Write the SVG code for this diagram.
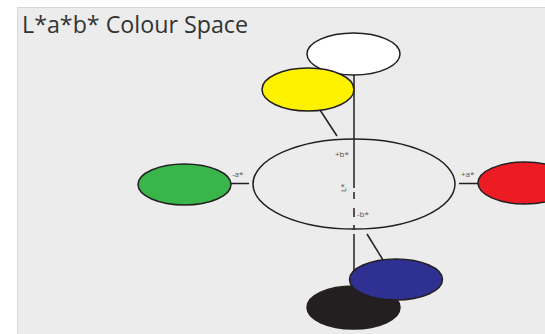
<svg xmlns="http://www.w3.org/2000/svg" width="545" height="334" viewBox="0 0 545 334">
<style>
.bg{fill:#ebeceb;stroke:#d6d7d6;stroke-width:1}
.e{stroke:#231f20;stroke-width:1.5}
.ln{stroke:#231f20;stroke-width:1.5;fill:none}
.t{font-family:"Open Sans","Liberation Sans",Arial,sans-serif;fill:#333}
.s{font-family:"Open Sans","Liberation Sans",Arial,sans-serif;font-size:8px;fill:#555}
</style>
<rect x="0" y="0" width="545" height="334" fill="#ffffff"/>
<rect class="bg" x="17.5" y="7.5" width="540" height="340"/>
<text class="t" x="22" y="33" font-size="24" textLength="226" lengthAdjust="spacingAndGlyphs">L*a*b* Colour Space</text>
<g id="connectors">
<line class="ln" x1="354" y1="75" x2="354" y2="188"/>
<path class="ln" d="M354 192V199M354 208V217M354 225V230M354 234V271"/>
<line class="ln" x1="320" y1="110" x2="337" y2="136"/>
<line class="ln" x1="367" y1="234" x2="383" y2="260"/>
<line class="ln" x1="231" y1="183.5" x2="249" y2="183.5"/>
<line class="ln" x1="459" y1="183.5" x2="478" y2="183.5"/>
</g>
<g id="lab-plane">
<ellipse class="e" cx="354" cy="184" rx="101" ry="45" fill="none"/>
<text class="s" x="335" y="157">+b*</text>
<text class="s" x="357" y="217">-b*</text>
<text class="s" transform="translate(346,192) rotate(-90)">L*</text>
</g>
<g id="white"><ellipse class="e" cx="353.5" cy="54" rx="46.5" ry="21" fill="#ffffff"/></g>
<g id="yellow"><ellipse class="e" cx="308" cy="89.5" rx="46" ry="21.5" fill="#fff200"/></g>
<g id="green"><ellipse class="e" cx="184.5" cy="184.5" rx="46.5" ry="20.5" fill="#39b54a"/><text class="s" x="232" y="177">-a*</text></g>
<g id="red"><ellipse class="e" cx="525" cy="183" rx="47" ry="21" fill="#ed1c24"/><text class="s" x="461" y="177">+a*</text></g>
<g id="black"><ellipse class="e" cx="353.5" cy="307.5" rx="46.5" ry="21.5" fill="#231f20"/></g>
<g id="blue"><ellipse class="e" cx="396" cy="279.5" rx="46.5" ry="20.5" fill="#2e3192"/></g>
</svg>
